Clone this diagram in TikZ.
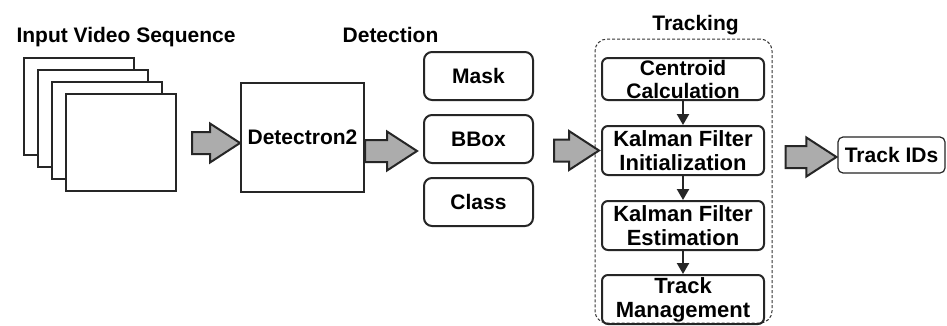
\documentclass[tikz,border=0pt]{standalone}
\usepackage{fontspec}
\setmainfont{Liberation Sans}
\usetikzlibrary{positioning,calc,arrows.meta}
\newcommand\fatarrow[2]{\draw[fat] let \p1=#1, \p2=#2 in (\x1,\y2-11pt) -- (\x2-30pt,\y2-11pt) -- (\x2-30pt,\y2-19.5pt) -- (\x2,\y2) -- (\x2-30pt,\y2+19.5pt) -- (\x2-30pt,\y2+11pt) -- (\x1,\y2+11pt) -- cycle;}

\begin{document}
\begin{tikzpicture}[x=1pt,y=-1pt,font=\fontsize{21}{23}\selectfont\bfseries,
frame/.style={draw=black!85,line width=2,fill=white,minimum width=110,minimum height=97,inner sep=0},
outbox/.style={draw=black!85,line width=2,rounded corners=8,minimum width=109,minimum height=48,inner sep=0},
stage/.style={draw=black!85,line width=2,rounded corners=6,minimum width=162,minimum height=49,inner sep=0,align=center,font=\fontsize{22}{24}\selectfont\bfseries},
fat/.style={draw=black!85,line width=2,fill=gray!65,line join=miter},
down/.style={draw=black!85,line width=2.2,-{Triangle[length=11,width=12]}},
node distance=24pt]
\useasboundingbox[fill=white] (0,0) rectangle (947,325);
\node[anchor=base] (inlab) at (126,42) {Input Video Sequence};
\foreach \i in {0,...,3}{\node[frame] (f\i) at ({79+14*\i},{106.5+12*\i}) {};}
\node[draw=black!85,line width=2,minimum width=123,minimum height=109,inner sep=0] (det) at (302.5,137.5) {Detectron2};
\node[anchor=base] (detlab) at (390.5,42) {Detection};
\node[outbox] (mask) at (478.5,76) {Mask};
\node[outbox,below=13pt of mask] (bbox) {BBox};
\node[outbox,below=13pt of bbox] (cls) {Class};
\node[draw=black!80,line width=1,dash pattern=on 3 off 2,rounded corners=12,minimum width=177,minimum height=284] (trk) at (683.5,181) {};
\node[anchor=base] (trklab) at (695.5,30) {Tracking};
\node[stage,minimum height=42,font=\fontsize{21}{23}\selectfont\bfseries] (cen) at (683,79) {Centroid\\Calculation};
\node[stage,below=of cen] (kin) {Kalman Filter\\Initialization};
\node[stage,below=of kin] (kest) {Kalman Filter\\Estimation};
\node[stage,below=23pt of kest] (mgmt) {Track\\Management};
\foreach \a/\b in {cen/kin,kin/kest,kest/mgmt}{\draw[down] (\a) -- (\b);}
\node[draw=black!85,line width=1.2,rounded corners=5,minimum width=107,minimum height=36,inner sep=0] (ids) at (891.5,155) {Track IDs};
\fatarrow{($(f3.east)+(15,0)$)}{($(det.west)+(0,5.5)$)}
\fatarrow{(det.east)}{($(bbox.west)+(-6,12)$)}
\fatarrow{($(bbox.east)+(20,0)$)}{($(kin.west)+(-2,0)$)}
\fatarrow{($(trk.east)+(13,0)$)}{($(ids.west)+(-1,2)$)}
\end{tikzpicture}
\end{document}
